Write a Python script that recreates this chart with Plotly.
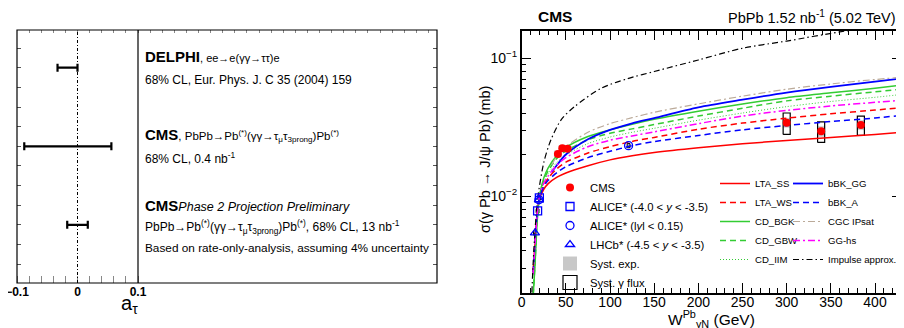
import plotly.graph_objects as go

# the page body has an 8px margin: build the figure 8px smaller and map
# reference pixel positions through that offset
OFF = 8
FW, FH = 904 - OFF, 328 - OFF
FONT = "Liberation Sans, Arial, sans-serif"

def px(x):
    return (x - OFF) / FW

def py(y):
    return 1 - (y - OFF) / FH

# ---------------- left panel data ----------------
rows = [3, 2, 1]
atau_lo = [-0.033, -0.088, -0.017]
atau_hi = [0.000, 0.056, 0.017]

# ---------------- right panel data ----------------
cms_w = [41, 46, 52, 300, 339, 384]
cms_sigma = [0.0202, 0.0222, 0.0220, 0.0340, 0.0295, 0.0328]
cms_exp_lo = [0.0192, 0.0211, 0.0209, 0.0315, 0.0270, 0.0303]
cms_exp_hi = [0.0213, 0.0233, 0.0231, 0.0366, 0.0320, 0.0353]
cms_flux_lo = [0.0197, 0.0217, 0.0215, 0.0280, 0.0245, 0.0275]
cms_flux_hi = [0.0207, 0.0227, 0.0225, 0.0400, 0.0345, 0.0380]

alice_fwd_w = [18, 20]
alice_fwd_sigma = [0.0078, 0.0097]
alice_mid_w = [19.5, 121]
alice_mid_sigma = [0.0094, 0.0232]
lhcb_w = [15, 19.5]
lhcb_sigma = [0.0054, 0.0094]
low_w = [15, 18, 20, 121]
low_sigma = [0.0054, 0.0078, 0.0097, 0.0232]

w_grid = [13, 15, 17.5, 20, 25, 30, 40, 50, 75, 100, 125, 150, 200, 250, 300, 350, 400, 430]
lta_ss = [0.0028, 0.0045, 0.0075, 0.0095, 0.0112, 0.0123, 0.0137, 0.0147, 0.0166, 0.0183, 0.0196, 0.0207, 0.0224, 0.0239, 0.0253, 0.0266, 0.0280, 0.0290]
lta_ws = [0.0028, 0.0045, 0.0075, 0.0097, 0.0120, 0.0135, 0.0158, 0.0176, 0.0205, 0.0228, 0.0249, 0.0266, 0.0305, 0.0338, 0.0367, 0.0395, 0.0420, 0.0438]
cd_bgk = [0.0019, 0.0031, 0.0065, 0.0098, 0.0135, 0.0160, 0.0198, 0.0225, 0.0270, 0.0302, 0.0332, 0.0360, 0.0412, 0.0465, 0.0517, 0.0560, 0.0605, 0.0637]
cd_gbw = [0.0019, 0.0032, 0.0065, 0.0098, 0.0130, 0.0152, 0.0188, 0.0212, 0.0256, 0.0285, 0.0307, 0.0330, 0.0380, 0.0433, 0.0490, 0.0530, 0.0570, 0.0596]
cd_iim = [0.0019, 0.0031, 0.0063, 0.0096, 0.0125, 0.0145, 0.0176, 0.0198, 0.0240, 0.0268, 0.0290, 0.0310, 0.0355, 0.0400, 0.0445, 0.0485, 0.0520, 0.0545]
bbk_a = [0.0028, 0.0045, 0.0075, 0.0097, 0.0117, 0.0130, 0.0148, 0.0163, 0.0190, 0.0211, 0.0232, 0.0248, 0.0275, 0.0302, 0.0325, 0.0347, 0.0368, 0.0385]
gg_hs = [0.0027, 0.0044, 0.0073, 0.0099, 0.0124, 0.0140, 0.0168, 0.0190, 0.0228, 0.0254, 0.0273, 0.0292, 0.0335, 0.0380, 0.0418, 0.0450, 0.0478, 0.0495]

w_high = [34, 40, 50, 75, 100, 125, 150, 200, 250, 300, 350, 400, 430]
bbk_gg = [0.0150, 0.0168, 0.0200, 0.0258, 0.0302, 0.0337, 0.0368, 0.0440, 0.0500, 0.0563, 0.0620, 0.0675, 0.0711]
cgc_ipsat = [0.0168, 0.0195, 0.0228, 0.0290, 0.0335, 0.0370, 0.0405, 0.0466, 0.0530, 0.0595, 0.0650, 0.0700, 0.0727]

w_imp = [11.5, 13, 15, 18, 25, 33, 45, 60, 90, 120, 150, 200, 250, 300, 360, 400, 430]
impulse = [0.0020, 0.0033, 0.0055, 0.0095, 0.0175, 0.0255, 0.0360, 0.0446, 0.0605, 0.0710, 0.0800, 0.0970, 0.1180, 0.1330, 0.1550, 0.1680, 0.1780]

BOX_HW = 4.0
BOX_HW_LOW = 1.6
GREY = "#c8c8c8"


def boxes(ws, lo, hi, hw):
    xs, ys = [], []
    for w, a, b in zip(ws, lo, hi):
        xs += [w - hw, w + hw, w + hw, w - hw, w - hw, None]
        ys += [a, a, b, b, a, None]
    return xs, ys


fig = go.Figure()

# ---------------- left panel ----------------
centers = [(a + b) / 2 for a, b in zip(atau_lo, atau_hi)]
fig.add_trace(go.Scatter(
    x=centers, y=rows, mode="markers",
    marker=dict(size=2, color="rgba(0,0,0,0)"),
    error_x=dict(type="data", symmetric=False,
                 array=[b - c for b, c in zip(atau_hi, centers)],
                 arrayminus=[c - a for a, c in zip(atau_lo, centers)],
                 color="black", thickness=2.2, width=4),
    xaxis="x", yaxis="y", showlegend=False, hoverinfo="skip"))
fig.add_trace(go.Scatter(x=[0], y=[2], mode="markers", marker=dict(size=1, color="rgba(0,0,0,0)"),
                         xaxis="x3", yaxis="y3", showlegend=False, hoverinfo="skip"))

fig.add_shape(type="line", xref="x", yref="y domain", x0=0, x1=0, y0=0, y1=1,
              line=dict(color="black", width=1, dash="3px,2px,1px,2px"))
fig.add_shape(type="rect", xref="paper", yref="paper", x0=px(17), x1=px(437), y0=py(283), y1=py(30),
              line=dict(color="black", width=1.2))
fig.add_shape(type="line", xref="paper", yref="paper", x0=px(138), x1=px(138), y0=py(283), y1=py(30),
              line=dict(color="black", width=1.2))

# ---------------- right panel ----------------
ex, ey = boxes(cms_w, cms_exp_lo, cms_exp_hi, BOX_HW)
fig.add_trace(go.Scatter(x=ex, y=ey, mode="lines", fill="toself", fillcolor=GREY,
                         line=dict(color=GREY, width=0.5), showlegend=False,
                         xaxis="x2", yaxis="y2", hoverinfo="skip"))
lx, ly = boxes(low_w, [s * 0.965 for s in low_sigma], [s * 1.035 for s in low_sigma], BOX_HW_LOW)
fig.add_trace(go.Scatter(x=lx, y=ly, mode="lines", fill="toself", fillcolor=GREY,
                         line=dict(color="black", width=1), showlegend=False,
                         xaxis="x2", yaxis="y2", hoverinfo="skip"))
fx, fy = boxes(cms_w[3:], cms_flux_lo[3:], cms_flux_hi[3:], BOX_HW)
fig.add_trace(go.Scatter(x=fx, y=fy, mode="lines", fill="toself", fillcolor="rgba(255,255,255,0)",
                         line=dict(color="black", width=1.2), showlegend=False,
                         xaxis="x2", yaxis="y2", hoverinfo="skip"))

DASH = "6px,4px"
DASHDOT = "7px,3px,2px,3px"
DOT = "1px,2px"
models = [
    ("LTA_SS", w_grid, lta_ss, "#ff0000", "solid", 1.5, "legend2", 1),
    ("LTA_WS", w_grid, lta_ws, "#ff0000", DASH, 1.5, "legend2", 2),
    ("CD_BGK", w_grid, cd_bgk, "#33cc33", "solid", 1.5, "legend2", 3),
    ("CD_GBW", w_grid, cd_gbw, "#33cc33", DASH, 1.5, "legend2", 4),
    ("CD_IIM", w_grid, cd_iim, "#33cc33", DOT, 1.0, "legend2", 5),
    ("bBK_GG", w_high, bbk_gg, "#0000ff", "solid", 1.8, "legend3", 1),
    ("bBK_A", w_grid, bbk_a, "#0000ff", DASH, 1.5, "legend3", 2),
    ("CGC IPsat", w_high, cgc_ipsat, "#bbaa99", DASHDOT, 1.2, "legend3", 3),
    ("GG-hs", w_grid, gg_hs, "#ff00ff", DASHDOT, 1.5, "legend3", 4),
    ("Impulse approx.", w_imp, impulse, "#000000", "6px,3px,1.5px,3px", 1.2, "legend3", 5),
]
for name, wx, sy, col, dash, lw, leg, rank in models:
    fig.add_trace(go.Scatter(x=wx, y=sy, mode="lines", name=name,
                             line=dict(color=col, dash=dash, width=lw, shape="spline", smoothing=0.8),
                             xaxis="x2", yaxis="y2", legend=leg, legendrank=rank, hoverinfo="skip"))

fig.add_trace(go.Scatter(x=cms_w, y=cms_sigma, mode="markers", name="CMS",
                         marker=dict(symbol="circle", size=8, color="#ff0000"),
                         xaxis="x2", yaxis="y2", legend="legend", legendrank=1))
fig.add_trace(go.Scatter(x=alice_fwd_w, y=alice_fwd_sigma, mode="markers",
                         name="ALICE* (-4.0 < <i>y</i> < -3.5)",
                         marker=dict(symbol="square-open", size=8, color="#0000ff", line=dict(width=1.3)),
                         xaxis="x2", yaxis="y2", legend="legend", legendrank=2))
fig.add_trace(go.Scatter(x=alice_mid_w, y=alice_mid_sigma, mode="markers",
                         name="ALICE* (l<i>y</i>l < 0.15)",
                         marker=dict(symbol="circle-open", size=8, color="#0000ff", line=dict(width=1.3)),
                         xaxis="x2", yaxis="y2", legend="legend", legendrank=3))
fig.add_trace(go.Scatter(x=lhcb_w, y=lhcb_sigma, mode="markers",
                         name="LHCb* (-4.5 < <i>y</i> < -3.5)",
                         marker=dict(symbol="triangle-up-open", size=8, color="#0000ff", line=dict(width=1.3)),
                         xaxis="x2", yaxis="y2", legend="legend", legendrank=4))
# legend-only entries for the systematic boxes
fig.add_trace(go.Scatter(x=[None], y=[None], mode="markers", name="Syst. exp.",
                         marker=dict(symbol="square", size=14, color=GREY),
                         xaxis="x2", yaxis="y2", legend="legend", legendrank=5))
fig.add_trace(go.Scatter(x=[None], y=[None], mode="markers", name="Syst. γ flux",
                         marker=dict(symbol="square-open", size=14, color="black", line=dict(width=1.2)),
                         xaxis="x2", yaxis="y2", legend="legend", legendrank=6))

# ---------------- annotations ----------------
ann = []

def text(x, y, t, size, xanchor="left", yanchor="middle", angle=0):
    ann.append(dict(x=px(x), y=py(y), xref="paper", yref="paper", text=t, showarrow=False,
                    xanchor=xanchor, yanchor=yanchor, textangle=angle,
                    font=dict(family=FONT, size=size, color="black")))

text(143, 57, "<b><span style='font-size:15px'>DELPHI</span></b>, ee→e(γγ→ττ)e", 11)
text(143, 80, "68% CL, Eur. Phys. J. C 35 (2004) 159", 12)
text(143, 135, "<b><span style='font-size:15px'>CMS</span></b>, PbPb→Pb<sup>(*)</sup>(γγ→τ<sub>μ</sub>τ<sub>3prong</sub>)Pb<sup>(*)</sup>", 11.5)
text(143, 158, "68% CL, 0.4 nb<sup>-1</sup>", 12)
text(143, 205, "<b><span style='font-size:15px'>CMS</span></b><i>Phase 2 Projection Preliminary</i>", 12.5)
text(143, 227, "PbPb→Pb<sup>(*)</sup>(γγ→τ<sub>μ</sub>τ<sub>3prong</sub>)Pb<sup>(*)</sup>, 68% CL, 13 nb<sup>-1</sup>", 12)
text(143, 248, "Based on rate-only-analysis, assuming 4% uncertainty", 11.8)
text(130, 304, "a<sub>τ</sub>", 20, xanchor="center")

text(536, 17, "<b>CMS</b>", 15.5)
text(898, 17, "PbPb 1.52 nb<sup>-1</sup> (5.02 TeV)", 14.5, xanchor="right")
text(485, 160, "σ(γ Pb → J/ψ Pb) (mb)", 14.5, xanchor="center", angle=-90)
text(711, 319, "W<sup>Pb</sup><sub>γN</sub> (GeV)", 15.5, xanchor="center")

minor_log = [k * 0.001 for k in range(2, 10)] + [k * 0.01 for k in range(2, 10)]

fig.update_layout(
    width=FW, height=FH, autosize=False,
    margin=dict(l=0, r=0, t=0, b=0, autoexpand=False),
    paper_bgcolor="white", plot_bgcolor="rgba(0,0,0,0)",
    font=dict(family=FONT, color="black"),
    annotations=ann,
    xaxis=dict(domain=[px(17), px(138)], range=[-0.1, 0.1], anchor="y",
               tickvals=[-0.1, 0, 0.1], ticktext=["<b>−0.1</b>", "<b>0</b>", "<b>0.1</b>"],
               ticks="", showline=False, showgrid=False, zeroline=False,
               tickfont=dict(size=12, family=FONT), ticklabelstandoff=0,
               ticklabeloverflow="allow",
               minor=dict(dtick=0.02, tick0=0, ticks="inside", ticklen=7, tickcolor="#888888",
                          tickwidth=1.2, showgrid=False)),
    yaxis=dict(domain=[py(283), py(30)], range=[0.26, 3.48], anchor="x",
               showticklabels=False, ticks="inside", ticklen=4, dtick=0.25, tick0=0,
               tickcolor="#555555", showline=False, showgrid=False, zeroline=False),
    xaxis3=dict(domain=[px(17), px(437)], range=[-0.1, 0.5942], anchor="y3", side="top",
                showticklabels=False, ticks="inside", ticklen=3, dtick=0.02, tick0=0,
                tickcolor="#888888", showline=False, showgrid=False, zeroline=False),
    yaxis3=dict(domain=[py(283), py(30)], range=[0.26, 3.48], anchor="x3", side="right",
                showticklabels=False, ticks="inside", ticklen=4, dtick=0.25, tick0=0,
                tickcolor="#555555", showline=False, showgrid=False, zeroline=False),
    xaxis2=dict(domain=[px(521.7), px(901.5)], range=[0, 430], anchor="y2",
                dtick=50, tick0=0, ticks="inside", ticklen=10, tickwidth=1, tickcolor="black",
                mirror="ticks", showline=True, linecolor="black", linewidth=1.5,
                showgrid=False, zeroline=False, tickfont=dict(size=14, family=FONT),
                ticklabelstandoff=-5,
                minor=dict(dtick=10, tick0=0, ticks="inside", ticklen=5, tickcolor="black", showgrid=False)),
    yaxis2=dict(domain=[py(293), py(30.7)], type="log", range=[-2.703, -0.801], anchor="x2",
                tickvals=[0.01, 0.1], ticktext=["10<sup>−2</sup>", "10<sup>−1</sup>"],
                ticks="inside", ticklen=10, tickcolor="black", mirror="ticks",
                showline=True, linecolor="black", linewidth=1.5, showgrid=False, zeroline=False,
                tickfont=dict(size=14, family=FONT),
                minor=dict(tickmode="array", tickvals=minor_log, ticks="inside", ticklen=5,
                           tickcolor="black", showgrid=False)),
    legend=dict(x=px(550), y=py(173), xanchor="left", yanchor="top", bgcolor="rgba(0,0,0,0)",
                font=dict(size=11.3, family=FONT), tracegroupgap=0, itemwidth=30,
                traceorder="normal"),
    legend2=dict(x=px(715), y=py(169), xanchor="left", yanchor="top", bgcolor="rgba(0,0,0,0)",
                 font=dict(size=9.6, family=FONT), itemwidth=30, traceorder="normal"),
    legend3=dict(x=px(788), y=py(169), xanchor="left", yanchor="top", bgcolor="rgba(0,0,0,0)",
                 font=dict(size=9.6, family=FONT), itemwidth=30, traceorder="normal"),
)

fig.write_html("out.html")
